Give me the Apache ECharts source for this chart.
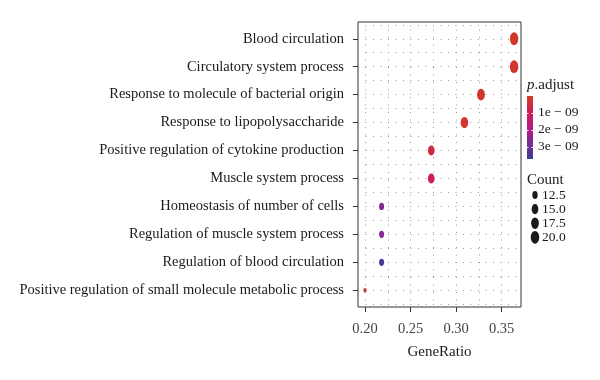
<!DOCTYPE html>
<html><head><meta charset="utf-8">
<script src="https://cdn.jsdelivr.net/npm/echarts@6/dist/echarts.min.js"></script>
<style>html,body{margin:0;padding:0;background:#fff}#c{width:600px;height:380px}</style>
</head><body><div id="c"></div>
<script>
const categories = ["Blood circulation", "Circulatory system process", "Response to molecule of bacterial origin", "Response to lipopolysaccharide", "Positive regulation of cytokine production", "Muscle system process", "Homeostasis of number of cells", "Regulation of muscle system process", "Regulation of blood circulation", "Positive regulation of small molecule metabolic process"];
const geneRatio = [0.3636, 0.3636, 0.3273, 0.3091, 0.2727, 0.2727, 0.2182, 0.2182, 0.2182, 0.2000];
const counts = [20, 20, 18, 17, 15, 15, 12, 12, 12, 11];
const pAdjust = [1.5e-10, 1.8e-10, 2.2e-10, 2.5e-10, 6.0e-10, 1.05e-9, 2.7e-9, 2.7e-9, 3.6e-9, 8e-11];
const xTicks = [0.20, 0.25, 0.30, 0.35];
const pTicks = [1e-9, 2e-9, 3e-9];
const pTickLabels = ["1e \u2212 09", "2e \u2212 09", "3e \u2212 09"];
const countBreaks = [12.5, 15.0, 17.5, 20.0];
const countBreakLabels = ["12.5", "15.0", "17.5", "20.0"];

const FONT = 'Liberation Serif';
const pMin = 2.94e-11, pMax = 3.735e-9;
const palette = ['#D13B27', '#CF1D55', '#B51B84', '#7A2C94', '#3C3A98'];
const cMin = Math.min(...counts), cMax = Math.max(...counts);
function dotSize(c) {
  const t = Math.sqrt(Math.max(0, (c - cMin) / (cMax - cMin)));
  return [3.2 + 5.3 * t, 4.6 + 8.2 * t];
}

const data = categories.map((c, i) => [geneRatio[i], i + 1, counts[i], pAdjust[i]]);

// legend geometry
const cb = {x: 527, y: 96, w: 6, h: 63};
const pY = v => cb.y + (v - pMin) / (pMax - pMin) * cb.h;
const graphic = [];
graphic.push({type: 'text', left: 527, top: 78, style: {
  text: '{i|p}{n|.adjust}', rich: {
    i: {fontFamily: FONT, fontSize: 15, fontStyle: 'italic', fill: '#1a1a1a'},
    n: {fontFamily: FONT, fontSize: 15, fill: '#1a1a1a'}
  }}});
graphic.push({type: 'rect', shape: {x: cb.x, y: cb.y, width: cb.w, height: cb.h}, style: {
  fill: new echarts.graphic.LinearGradient(0, 0, 0, 1, palette.map((c, i) => ({offset: i / (palette.length - 1), color: c})))
}});
pTicks.forEach((v, i) => {
  const y = Math.round(pY(v)) + 0.5;
  graphic.push({type: 'line', shape: {x1: cb.x, y1: y, x2: cb.x + 1.5, y2: y}, style: {stroke: '#fff', lineWidth: 1}});
  graphic.push({type: 'line', shape: {x1: cb.x + cb.w - 1.5, y1: y, x2: cb.x + cb.w, y2: y}, style: {stroke: '#fff', lineWidth: 1}});
  graphic.push({type: 'text', x: 538, y: pY(v), style: {text: pTickLabels[i], fontFamily: FONT, fontSize: 13.5, fill: '#1a1a1a', verticalAlign: 'middle'}});
});
graphic.push({type: 'text', x: 527, y: 180, style: {text: 'Count', fontFamily: FONT, fontSize: 15, fill: '#1a1a1a', verticalAlign: 'middle'}});
countBreaks.forEach((c, i) => {
  const s = dotSize(c);
  const y = 195 + i * 14.1;
  graphic.push({type: 'circle', x: 535, y: y, scaleX: s[0] / s[1], shape: {cx: 0, cy: 0, r: s[1] / 2}, style: {fill: '#1a1a1a'}});
  graphic.push({type: 'text', x: 542, y: y, style: {text: countBreakLabels[i], fontFamily: FONT, fontSize: 13.5, fill: '#1a1a1a', verticalAlign: 'middle'}});
});

const dotted = {color: '#9a9a9a', width: 1, type: [1, 6.5]};
const chart = echarts.init(document.getElementById('c'), null, {renderer: 'canvas'});
chart.setOption({
  backgroundColor: '#fff',
  animation: false,
  grid: {left: 358, top: 22, width: 163, height: 285, show: true, borderColor: '#333', borderWidth: 1, backgroundColor: 'transparent'},
  xAxis: {
    type: 'value', min: 0.1923, max: 0.3712, splitNumber: 4,
    name: 'GeneRatio', nameLocation: 'middle', nameGap: 38,
    nameTextStyle: {fontFamily: FONT, fontSize: 15, color: '#1a1a1a'},
    axisLine: {show: false},
    axisTick: {show: true, length: 5, lineStyle: {color: '#333'}, customValues: xTicks},
    axisLabel: {customValues: xTicks, fontFamily: FONT, fontSize: 14.5, color: '#444', margin: 15, formatter: v => v.toFixed(2)},
    splitLine: {show: true, lineStyle: dotted},
    minorTick: {show: false, splitNumber: 2},
    minorSplitLine: {show: true, lineStyle: dotted}
  },
  yAxis: {
    type: 'value', min: 0.4, max: 10.6, splitNumber: 10, inverse: true,
    axisLine: {show: false},
    axisTick: {show: true, length: 5, lineStyle: {color: '#333'}, customValues: categories.map((c, i) => i + 1)},
    axisLabel: {customValues: categories.map((c, i) => i + 1), fontFamily: FONT, fontSize: 14.5, color: '#1a1a1a', margin: 14,
      formatter: v => categories[Math.round(v) - 1] || ''},
    splitLine: {show: true, lineStyle: dotted},
    minorTick: {show: false, splitNumber: 2},
    minorSplitLine: {show: true, lineStyle: dotted}
  },
  visualMap: {type: 'continuous', show: false, dimension: 3, min: pMin, max: pMax, seriesIndex: 0, inRange: {color: palette}},
  series: [{
    type: 'scatter', data: data, z: 5,
    symbol: 'circle',
    symbolSize: v => dotSize(v[2]),
    itemStyle: {opacity: 1}
  }],
  graphic: graphic
});
</script>
</body></html>
